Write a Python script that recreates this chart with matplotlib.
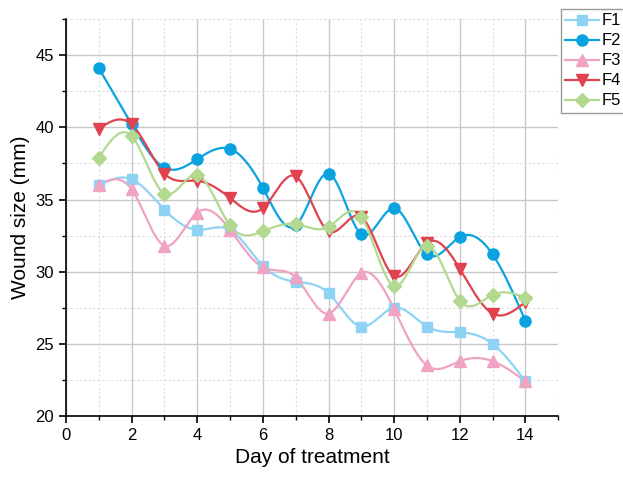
import numpy as np
import matplotlib.pyplot as plt
from matplotlib.ticker import MultipleLocator

plt.rcParams['font.family'] = ['Liberation Sans', 'DejaVu Sans']

days = [1, 2, 3, 4, 5, 6, 7, 8, 9, 10, 11, 12, 13, 14]
f1 = [36.0, 36.4, 34.3, 32.9, 32.9, 30.4, 29.3, 28.5, 26.2, 27.5, 26.2, 25.8, 25.0, 22.4]
f2 = [44.1, 40.2, 37.2, 37.8, 38.5, 35.8, 33.2, 36.8, 32.6, 34.4, 31.2, 32.4, 31.2, 26.6]
f3 = [36.0, 35.7, 31.8, 34.1, 32.9, 30.3, 29.6, 27.1, 29.9, 27.4, 23.5, 23.8, 23.8, 22.4]
f4 = [39.9, 40.2, 36.8, 36.3, 35.1, 34.4, 36.6, 32.8, 33.8, 29.7, 32.0, 30.2, 27.1, 27.9]
f5 = [37.9, 39.4, 35.4, 36.7, 33.2, 32.8, 33.3, 33.1, 33.8, 29.0, 31.8, 28.0, 28.4, 28.2]

names = ['F1', 'F2', 'F3', 'F4', 'F5']
colors = ['#8fd3f4', '#0aa3df', '#f0a3c3', '#e0424f', '#b3d88f']
markers = ['s', 'o', '^', 'v', 'D']
msizes = [7, 8, 8, 8, 7]


def smooth(x, y, n=400):
    # natural cubic spline, only used for the drawn connecting curve
    x = np.asarray(x, float)
    y = np.asarray(y, float)
    h = np.diff(x)
    m = len(x)
    A = np.zeros((m, m))
    b = np.zeros(m)
    A[0, 0] = A[-1, -1] = 1
    for i in range(1, m - 1):
        A[i, i - 1] = h[i - 1]
        A[i, i] = 2 * (h[i - 1] + h[i])
        A[i, i + 1] = h[i]
        b[i] = 6 * ((y[i + 1] - y[i]) / h[i] - (y[i] - y[i - 1]) / h[i - 1])
    M = np.linalg.solve(A, b)
    xs = np.linspace(x[0], x[-1], n)
    idx = np.clip(np.searchsorted(x, xs) - 1, 0, m - 2)
    x0, x1 = x[idx], x[idx + 1]
    hh = x1 - x0
    t0, t1 = x1 - xs, xs - x0
    ys = (M[idx] * t0 ** 3 + M[idx + 1] * t1 ** 3) / (6 * hh) \
        + (y[idx] / hh - M[idx] * hh / 6) * t0 \
        + (y[idx + 1] / hh - M[idx + 1] * hh / 6) * t1
    return xs, ys


fig = plt.figure(figsize=(6.23, 4.84), dpi=100)
ax = fig.add_axes([0.106, 0.1405, 0.79, 0.82])

for name, vals, c, mk, ms in zip(names, [f1, f2, f3, f4, f5], colors, markers, msizes):
    xs, ys = smooth(days, vals)
    ax.plot(xs, ys, color=c, lw=1.6, zorder=3)
    ax.plot(days, vals, linestyle='none', marker=mk, ms=ms, color=c, zorder=4)
    ax.plot([], [], color=c, lw=1.6, marker=mk, ms=ms, label=name)

ax.set_xlim(0, 15)
ax.set_ylim(20, 47.5)
ax.xaxis.set_minor_locator(MultipleLocator(1))
ax.yaxis.set_minor_locator(MultipleLocator(2.5))
ax.set_yticks([20, 25, 30, 35, 40, 45])
ax.set_xticks([0, 2, 4, 6, 8, 10, 12, 14])

ax.grid(True, which='major', color='#c8c8c8', lw=1.0)
ax.grid(True, which='minor', color='#dcdcdc', lw=0.8, linestyle=(0, (2, 2)))
ax.set_axisbelow(True)

for s in ['top', 'right']:
    ax.spines[s].set_visible(False)
for s in ['left', 'bottom']:
    ax.spines[s].set_linewidth(1.2)
ax.tick_params(which='major', direction='out', length=5, width=1.2, labelsize=12)
ax.tick_params(which='minor', direction='out', length=3, width=1.0)

ax.set_xlabel('Day of treatment', fontsize=15)
ax.set_ylabel('Wound size (mm)', fontsize=15)

leg = ax.legend(loc='upper left', bbox_to_anchor=(0.9005, 0.981),
                bbox_transform=fig.transFigure, fontsize=12,
                frameon=True, fancybox=False, borderaxespad=0, handlelength=2.0,
                handletextpad=0.2, labelspacing=0.3, borderpad=0.25)
leg.get_frame().set_edgecolor('#808080')
leg.get_frame().set_linewidth(1.0)

fig.savefig('out.png', dpi=100)
